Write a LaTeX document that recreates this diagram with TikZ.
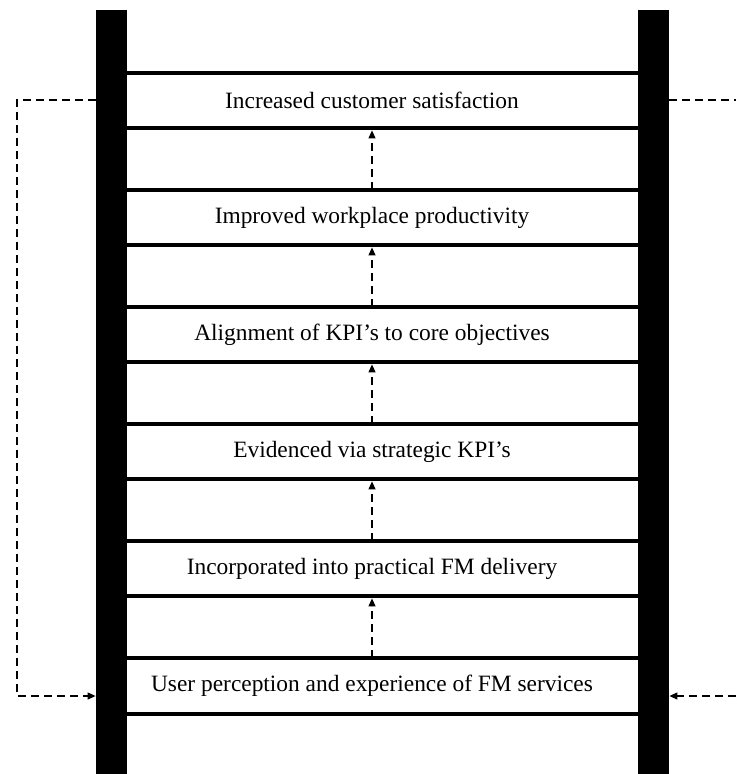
\documentclass[tikz,border=0pt]{standalone}
\usepackage{fontspec}
\setmainfont{Liberation Serif}
\usetikzlibrary{arrows.meta, positioning}

\begin{document}
\begin{tikzpicture}[
    x=0.5pt, y=-0.5pt,
    pole/.style={rectangle, fill=black, inner sep=0pt, minimum width=15.5pt, minimum height=382pt},
    rungtext/.style={rectangle, inner sep=0pt, minimum height=27.5pt, font=\fontsize{11.7}{14}\selectfont},
    rung/.style={line width=2pt},
    flow/.style={dashed, dash pattern=on 4pt off 2.5pt, line width=0.6pt, -{Triangle[length=4pt, width=3.5pt]}, shorten >=1pt},
    feedback/.style={dashed, dash pattern=on 4pt off 2.5pt, line width=0.6pt}
]
\useasboundingbox (0,0) rectangle (736,774);

% the two poles of the ladder
\node[pole] (lpole) at (111.5,392) {};
\node[pole] (rpole) at (653.5,392) {};

% rungs, top to bottom
\node[rungtext] (r1) at (372,100.5) {Increased customer satisfaction};
\node[rungtext] (r2) at (372,217.5) {Improved workplace productivity};
\node[rungtext] (r3) at (372,334.5) {Alignment of KPI’s to core objectives};
\node[rungtext] (r4) at (372,451.5) {Evidenced via strategic KPI’s};
\node[rungtext] (r5) at (372,568.5) {Incorporated into practical FM delivery};
\node[rungtext] (r6) at (372,686) {User perception and experience of FM services};

\foreach \r in {r1,r2,r3,r4,r5,r6} {
    \draw[rung] (lpole.east |- \r.north) -- (rpole.west |- \r.north);
    \draw[rung] (lpole.east |- \r.south) -- (rpole.west |- \r.south);
}

% steps up the ladder
\draw[flow] (r2.north) -- (r1.south);
\draw[flow] (r3.north) -- (r2.south);
\draw[flow] (r4.north) -- (r3.south);
\draw[flow] (r5.north) -- (r4.south);
\draw[flow] (r6.north) -- (r5.south);

% feedback loops
\coordinate (ltop) at (17,100);
\coordinate (lbot) at (17,696);
\coordinate (rtop) at (736,100);
\coordinate (rbot) at (736,696);

\draw[feedback, -{Triangle[length=4pt, width=3.5pt]}] (lpole.west |- ltop) -- (ltop) -- (lbot) -- (lpole.west |- lbot);
\draw[feedback] (rpole.east |- rtop) -- (rtop);
\draw[feedback, -{Triangle[length=4pt, width=3.5pt]}] (rbot) -- (rpole.east |- rbot);

\end{tikzpicture}
\end{document}
